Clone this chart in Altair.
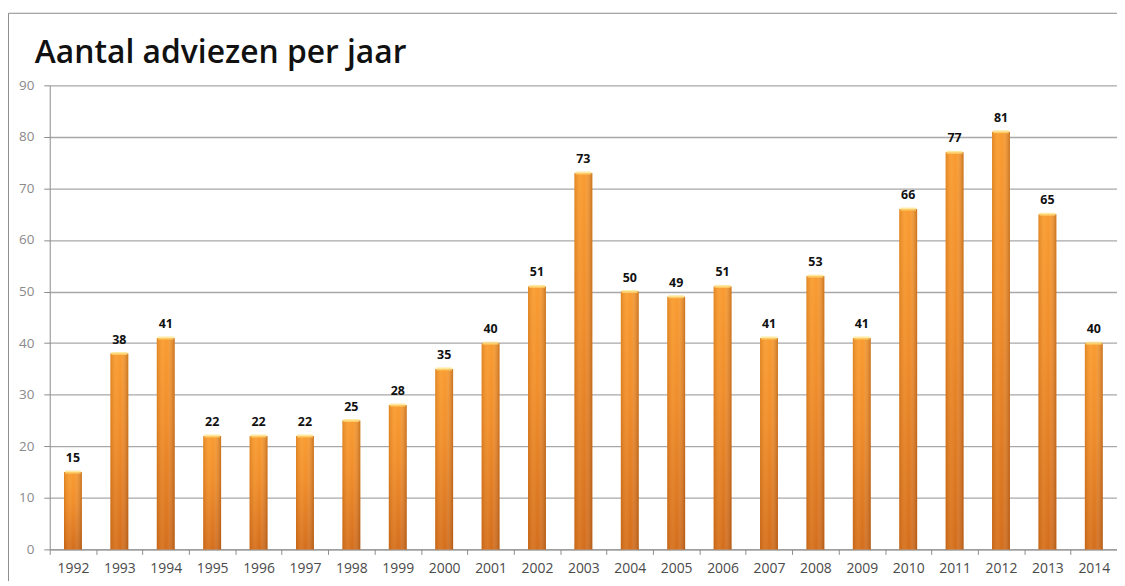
import altair as alt
import pandas as pd

years = [str(y) for y in range(1992, 2015)]
values = [15, 38, 41, 22, 22, 22, 25, 28, 35, 40, 51, 73, 50, 49, 51, 41, 53, 41, 66, 77, 81, 65, 40]
y_ticks = list(range(0, 91, 10))
title_text = "Aantal adviezen per jaar"

df = pd.DataFrame({"jaar": years, "aantal": values})

W, H = 1074, 467
FONT = "Open Sans"

x_enc = alt.X("jaar:N", sort=years, title=None,
              scale=alt.Scale(paddingInner=0, paddingOuter=0),
              axis=alt.Axis(labelAngle=0, tickBand="extent", tickSize=5,
                            labelPadding=7, labelFontSize=14, labelColor="#4a4a4a",
                            domainColor="#8c8c8c", tickColor="#8c8c8c", grid=False))
y_enc = alt.Y("aantal:Q", title=None,
              scale=alt.Scale(domain=[0, 90], nice=False),
              axis=alt.Axis(values=y_ticks, tickSize=6, labelPadding=10,
                            labelFontSize=13.5, labelColor="#8a8a8a",
                            domainColor="#8c8c8c", tickColor="#8c8c8c",
                            gridColor="#a8a8a8", gridWidth=1.3))

base = alt.Chart(df)

vert = alt.Gradient(gradient="linear", x1=0, y1=0, x2=0, y2=1,
                    stops=[alt.GradientStop(color="#f99a2e", offset=0),
                           alt.GradientStop(color="#f08c28", offset=0.4),
                           alt.GradientStop(color="#d36c1a", offset=1)])
horiz = alt.Gradient(gradient="linear", x1=0, y1=0, x2=1, y2=0,
                     stops=[alt.GradientStop(color="rgba(150,70,0,0.25)", offset=0),
                            alt.GradientStop(color="rgba(255,210,140,0.12)", offset=0.3),
                            alt.GradientStop(color="rgba(255,255,255,0)", offset=0.55),
                            alt.GradientStop(color="rgba(130,55,0,0.4)", offset=1)])

bars = base.mark_bar(size=18, color=vert).encode(x=x_enc, y=y_enc)
shade = base.mark_bar(size=18, color=horiz).encode(x="jaar:N", y="aantal:Q")
cap = base.mark_tick(size=16, thickness=3, color="#ffe07a").encode(x="jaar:N", y="aantal:Q")
labels = base.mark_text(dy=-14, fontSize=12.5, fontWeight="bold", font=FONT,
                        color="#111111").encode(x="jaar:N", y="aantal:Q", text="aantal:Q")

one = alt.Chart(pd.DataFrame({"t": [title_text]}))
border = one.mark_rect(
    fill=None, stroke="#8c8c8c", strokeWidth=1, clip=False
).encode(x=alt.value(-41.5), x2=alt.value(W + 20), y=alt.value(-72.5), y2=alt.value(H + 60))
title = one.mark_text(align="left", baseline="alphabetic", fontSize=32, font=FONT,
                      fontWeight=600, color="#111111").encode(
    x=alt.value(-15), y=alt.value(-22), text="t:N")

chart = alt.layer(bars, shade, cap, labels, border, title).properties(
    width=W, height=H,
    autosize=alt.AutoSizeParams(type="none"),
    padding={"left": 42, "top": 76, "right": 0, "bottom": 30},
).configure_view(stroke=None).configure_axis(labelFont=FONT)

chart.save("out.html", embed_options={"renderer": "svg", "actions": False})
